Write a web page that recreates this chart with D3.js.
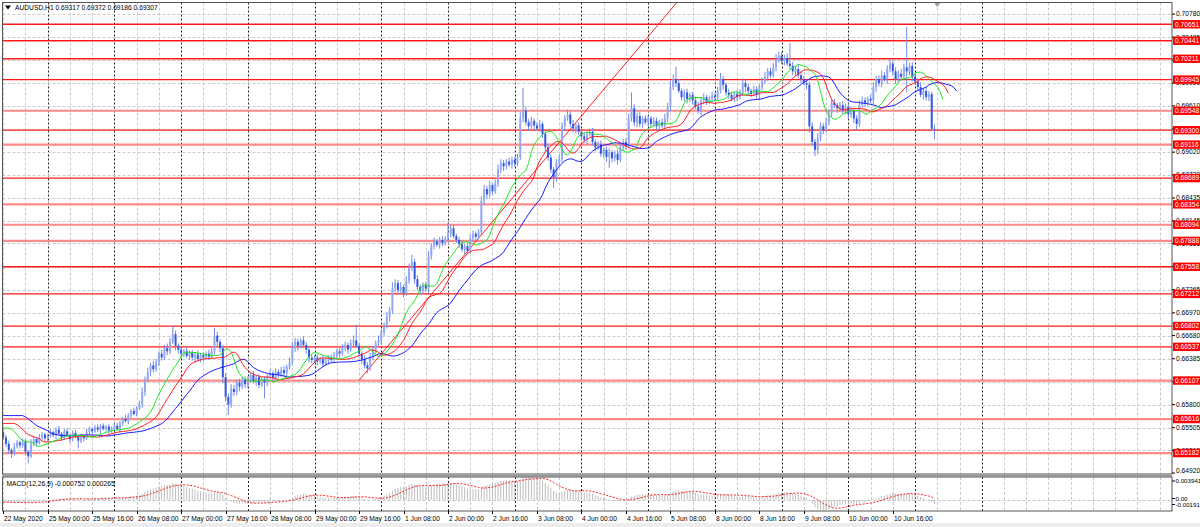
<!DOCTYPE html>
<html><head><meta charset="utf-8">
<script src="https://cdn.jsdelivr.net/npm/d3@7"></script>
<style>
body{margin:0;background:#fff;}
svg{display:block;font-family:"Liberation Sans",Arial,sans-serif;}
</style>
</head><body>
<svg id="c" width="1200" height="527"></svg>
<script>
// ---------------- DATA ----------------
const symbolTitle = "AUDUSD,H1";
const lastBarText = "0.69317 0.69372 0.69186 0.69307";
const firstOpen = 0.6545;
// hourly closes, 22 May 2020 08:00 .. 11 Jun 2020 07:00
const closes = [
0.6538,0.6530,0.6522,0.6518,0.6526,0.6532,0.6528,0.6533,0.6520,0.6514,0.6530,0.6536,0.6531,0.6538,0.6542,0.6537,
0.6540,0.6545,0.6541,0.6548,0.6543,0.6538,0.6546,0.6541,0.6536,0.6544,0.6539,0.6534,0.6540,0.6537,0.6545,0.6549,0.6546,0.6551,0.6548,0.6553,0.6549,0.6552,0.6547,0.6550,
0.6553,0.6549,0.6556,0.6562,0.6559,0.6566,0.6572,0.6568,0.6575,0.6580,0.6596,0.6612,0.6622,0.6630,0.6625,0.6634,0.6645,0.6640,0.6652,0.6648,0.6660,0.6670,0.6655,0.6650,
0.6645,0.6648,0.6642,0.6646,0.6640,0.6644,0.6638,0.6643,0.6640,0.6645,0.6641,0.6648,0.6668,0.6660,0.6652,0.6615,0.6590,0.6580,0.6600,0.6596,0.6608,0.6603,0.6612,0.6606,
0.6612,0.6618,0.6610,0.6615,0.6605,0.6612,0.6608,0.6616,0.6620,0.6614,0.6622,0.6618,0.6624,0.6620,0.6628,0.6634,0.6652,0.6660,0.6655,0.6662,0.6656,0.6650,0.6640,0.6637,
0.6640,0.6635,0.6638,0.6632,0.6636,0.6640,0.6637,0.6642,0.6648,0.6645,0.6652,0.6656,0.6650,0.6658,0.6662,0.6655,0.6645,0.6638,0.6630,0.6626,0.6640,0.6650,0.6658,0.6662,
0.6672,0.6680,0.6692,0.6700,0.6728,0.6735,0.6726,0.6730,0.6722,0.6738,0.6755,0.6762,0.6740,0.6730,0.6725,0.6732,0.6728,0.6770,0.6782,0.6788,0.6784,0.6790,0.6786,0.6792,
0.6798,0.6805,0.6795,0.6790,0.6785,0.6778,0.6782,0.6776,0.6792,0.6798,0.6794,0.6800,0.6840,0.6855,0.6848,0.6860,0.6852,0.6862,0.6880,0.6888,0.6884,0.6890,0.6886,0.6892,
0.6888,0.6895,0.6945,0.6955,0.6940,0.6935,0.6942,0.6936,0.6932,0.6938,0.6925,0.6908,0.6895,0.6880,0.6870,0.6888,0.6893,0.6935,0.6945,0.6950,0.6938,0.6932,0.6936,0.6928,
0.6922,0.6918,0.6925,0.6928,0.6915,0.6908,0.6912,0.6900,0.6905,0.6896,0.6902,0.6894,0.6900,0.6892,0.6908,0.6915,0.6910,0.6945,0.6958,0.6940,0.6948,0.6938,0.6945,0.6940,
0.6945,0.6938,0.6942,0.6935,0.6940,0.6936,0.6945,0.6960,0.6985,0.6995,0.6990,0.6980,0.6972,0.6978,0.6970,0.6975,0.6968,0.6960,0.6955,0.6968,0.6972,0.6966,0.6970,0.6974,
0.6972,0.6980,0.6995,0.6988,0.6978,0.6975,0.6970,0.6976,0.6972,0.6978,0.6990,0.6985,0.6980,0.6976,0.6982,0.6975,0.6985,0.6992,0.6998,0.7005,0.7000,0.7010,0.7020,0.7025,
0.7018,0.7022,0.7015,0.7012,0.7005,0.7008,0.7000,0.6995,0.6990,0.6988,0.6935,0.6915,0.6905,0.6920,0.6935,0.6930,0.6940,0.6952,0.6965,0.6962,0.6958,0.6962,0.6955,0.6960,
0.6950,0.6955,0.6945,0.6938,0.6962,0.6968,0.6965,0.6970,0.6968,0.6985,0.6995,0.6990,0.7000,0.6995,0.7008,0.7015,0.7005,0.6995,0.7002,0.6998,0.7010,0.7005,0.7012,0.6998,
0.6992,0.6985,0.6975,0.6980,0.6972,0.6976,0.69317,0.69307];
// upper / lower shadow lengths in pips
const wickUp = [
7,3,4,2,5,3,2,4,3,2,6,3,2,4,3,2,
3,4,2,3,5,2,3,4,2,3,4,2,3,2,4,3,2,3,4,2,3,2,3,2,
3,4,3,2,5,3,2,4,3,5,6,4,5,3,6,4,3,5,4,6,5,10,4,3,
4,3,5,3,4,3,5,3,4,3,5,4,10,5,3,4,5,4,6,5,4,5,3,4,
4,3,5,2,4,3,4,3,5,3,4,3,4,5,3,6,8,5,4,3,5,4,3,4,
3,4,3,5,4,3,4,5,3,4,5,4,3,5,6,20,4,3,5,4,6,5,4,6,
4,5,6,4,8,5,4,6,3,6,5,9,4,5,3,4,5,6,4,5,3,4,5,3,
14,4,5,3,4,5,3,4,5,4,3,4,6,5,4,5,3,5,6,5,4,3,5,4,
4,5,8,29,5,4,5,3,4,5,3,4,5,4,3,5,6,5,4,6,4,5,3,4,
4,5,3,4,5,3,4,5,3,4,5,3,4,5,6,4,5,6,20,5,4,5,3,4,
4,3,5,4,3,5,6,5,8,6,16,5,3,4,5,3,4,5,6,4,5,3,4,5,
4,5,8,4,3,5,4,3,5,4,6,5,4,3,5,4,3,5,6,4,5,6,7,5,
5,4,6,26,5,4,6,5,4,3,4,5,4,6,5,4,6,5,4,5,3,4,5,4,
4,5,3,4,6,5,4,3,5,6,4,5,6,4,5,6,4,5,4,6,5,52,4,5,
5,4,6,4,5,4,3,5.5];
const wickDown = [
3,4,5,6,3,2,4,3,5,9,2,3,4,2,3,4,
4,2,3,5,2,4,3,2,5,3,2,10,3,4,2,3,4,2,3,5,2,3,4,3,
3,2,4,3,2,4,3,2,3,2,4,5,3,6,4,3,5,4,3,5,4,3,6,5,
5,4,3,5,4,6,3,4,5,3,4,3,4,6,5,8,6,13,4,5,4,6,3,5,
5,4,3,6,4,3,20,4,3,5,3,4,3,5,4,3,4,5,6,3,4,5,6,4,
4,5,3,4,3,5,4,3,4,5,3,4,5,3,4,3,5,6,4,6,3,4,5,3,
5,4,3,6,4,5,6,4,5,3,4,5,6,4,5,3,4,6,5,4,3,5,4,3,
4,5,3,4,5,3,7,4,3,5,4,3,4,5,6,4,5,3,4,5,6,4,3,5,
5,4,3,5,4,6,4,5,3,4,5,6,4,5,14,6,5,4,5,3,4,5,6,4,
5,4,6,3,4,5,3,4,5,6,14,5,4,6,3,4,5,3,4,5,6,4,5,3,
5,4,3,5,4,3,4,5,6,4,5,3,4,5,6,4,5,3,4,6,5,4,3,5,
5,4,3,6,4,5,3,4,5,3,4,6,5,4,3,5,6,4,3,5,4,3,5,4,
4,5,3,4,5,6,4,5,3,6,8,5,8,6,4,5,3,4,5,4,6,5,4,5,
5,4,6,8,4,3,5,4,3,5,6,4,5,3,6,4,5,6,4,5,4,27,5,6,
4,5,3,6,4,5,3,12];
// horizontal support / resistance levels
const levelsStrong = [0.70651,0.70441,0.70211,0.69945,0.69300,0.68689,0.67558,0.67212,0.66802,0.66537];
const levelsSoft   = [0.69548,0.69116,0.68354,0.68094,0.67888,0.66107,0.65616,0.65182];
// price axis labels
const priceTicks = [0.70780,0.70485,0.70195,0.69900,0.69610,0.69315,0.69020,0.68730,0.68435,0.68145,0.67855,
                    0.67560,0.67265,0.66970,0.66680,0.66385,0.66090,0.65800,0.65505,0.65215,0.64920];
// time axis labels (one every 16 bars, starting at bar 0)
const timeLabels = ["22 May 2020","25 May 00:00","25 May 16:00","26 May 08:00","27 May 00:00","27 May 16:00",
 "28 May 08:00","29 May 00:00","29 May 16:00","1 Jun 08:00","2 Jun 00:00","2 Jun 16:00","3 Jun 08:00",
 "4 Jun 00:00","4 Jun 16:00","5 Jun 08:00","8 Jun 00:00","8 Jun 16:00","9 Jun 08:00","10 Jun 00:00","10 Jun 16:00"];
const daySeparatorBars = [16,40,64,88,112,136,160,184,208,232,256,280,304,328,352];
// trend line anchors (bar index, price)
const trendAnchors = [{bar:128,price:0.6611},{bar:200,price:0.69145}];
// Alligator starting values (from the left edge of the picture)
const jawSeed = 0.6566, teethSeed = 0.6556, lipsSeed = 0.6550;
// MACD
const macdLabel = "MACD(12,26,9) -0.000752 0.000265";
const macdTicks = ["0.003941","0.00","-0.00191"];
const macdRange = [-0.00191, 0.003941];
const macdSeed12 = 0.6536, macdSeed26 = 0.6540;

// ---------------- DRAW ----------------
const PIP = 0.0001;
const svg = d3.select("#c");
const L = 2.5, R = 1172, mainT = 2.5, mainB = 474, macdT = 477, macdB = 511;
const x = d3.scaleLinear().domain([0, 335]).range([3.2, 934.5]);
const y = d3.scaleLinear().domain([0.64920, 0.70935]).range([473.6, 2]);
const ym = d3.scaleLinear().domain(macdRange).range([macdB, macdT]);
const maxBar = Math.floor(x.invert(R));

const bars = closes.map((c, i) => {
  const o = i ? closes[i - 1] : firstOpen;
  return {i, o, c, h: Math.max(o, c) + wickUp[i] * PIP, l: Math.min(o, c) - wickDown[i] * PIP};
});

svg.append("rect").attr("width", 1200).attr("height", 527).attr("fill", "#fff");
const defs = svg.append("defs");
defs.append("clipPath").attr("id", "cm").append("rect").attr("x", L).attr("y", mainT).attr("width", R - L).attr("height", mainB - mainT);
defs.append("clipPath").attr("id", "cd").append("rect").attr("x", L).attr("y", macdT).attr("width", R - L).attr("height", macdB - macdT);

const gMain = svg.append("g").attr("clip-path", "url(#cm)");
const gMacd = svg.append("g").attr("clip-path", "url(#cd)");

// grid
const gridBars = d3.range(0, maxBar + 1, 8).filter(b => !daySeparatorBars.includes(b));
[[gMain, mainT, mainB], [gMacd, macdT, macdB]].forEach(([g, t, b]) => {
  g.selectAll(null).data(gridBars).join("line")
    .attr("x1", d => Math.round(x(d)) + 0.5).attr("x2", d => Math.round(x(d)) + 0.5)
    .attr("y1", t).attr("y2", b).attr("stroke", "#cacaca").attr("stroke-dasharray", "3,2");
  g.selectAll(null).data(daySeparatorBars.filter(d => d <= maxBar)).join("line")
    .attr("x1", d => Math.round(x(d)) + 0.5).attr("x2", d => Math.round(x(d)) + 0.5)
    .attr("y1", t).attr("y2", b).attr("stroke", "#222").attr("stroke-dasharray", "2,2");
});
gMain.selectAll(null).data(priceTicks).join("line")
  .attr("x1", L).attr("x2", R).attr("y1", d => Math.round(y(d)) + 0.5).attr("y2", d => Math.round(y(d)) + 0.5)
  .attr("stroke", "#cacaca").attr("stroke-dasharray", "3,2");
gMacd.append("line").attr("x1", L).attr("x2", R).attr("y1", Math.round(ym(0)) + 0.5).attr("y2", Math.round(ym(0)) + 0.5)
  .attr("stroke", "#c4c4c4").attr("stroke-dasharray", "3,2");

// levels
gMain.selectAll(null).data(levelsSoft).join("line")
  .attr("x1", L).attr("x2", R).attr("y1", d => y(d)).attr("y2", d => y(d))
  .attr("stroke", "#ff8a8a").attr("stroke-width", 2.2);
gMain.selectAll(null).data(levelsStrong).join("line")
  .attr("x1", L).attr("x2", R).attr("y1", d => y(d)).attr("y2", d => y(d))
  .attr("stroke", "#ff1a1a").attr("stroke-width", 1.3);

// trend line (ray)
const slope = (trendAnchors[1].price - trendAnchors[0].price) / (trendAnchors[1].bar - trendAnchors[0].bar);
const endBar = 300;
gMain.append("line")
  .attr("x1", x(trendAnchors[0].bar)).attr("y1", y(trendAnchors[0].price))
  .attr("x2", x(endBar)).attr("y2", y(trendAnchors[0].price + slope * (endBar - trendAnchors[0].bar)))
  .attr("stroke", "#ff2020").attr("stroke-width", 1);

// candles
gMain.selectAll(null).data(bars).join("line")
  .attr("x1", d => x(d.i)).attr("x2", d => x(d.i)).attr("y1", d => y(d.h)).attr("y2", d => y(d.l))
  .attr("stroke", "#6f8bea").attr("stroke-width", 1);
gMain.selectAll(null).data(bars).join("rect")
  .attr("x", d => x(d.i) - 1).attr("width", 2)
  .attr("y", d => y(Math.max(d.o, d.c)))
  .attr("height", d => Math.max(0.8, Math.abs(y(d.o) - y(d.c))))
  .attr("fill", d => d.c >= d.o ? "#93a9f1" : "#3358dd");

// Alligator
function smma(period, seed) {
  let v = seed;
  return bars.map(b => { v = (v * (period - 1) + (b.h + b.l) / 2) / period; return v; });
}
[[13, 8, jawSeed, "#1a1aff"], [8, 5, teethSeed, "#ff2020"], [5, 3, lipsSeed, "#1fe61f"]].forEach(([p, s, seed, col]) => {
  const vals = smma(p, seed);
  const pts = d3.range(s).map(k => [k, seed]).concat(vals.map((v, i) => [i + s, v]));
  gMain.append("path").attr("d", d3.line().x(d => x(d[0])).y(d => y(d[1]))(pts))
    .attr("fill", "none").attr("stroke", col).attr("stroke-width", 1);
});

// MACD
let e12 = macdSeed12, e26 = macdSeed26;
const macd = closes.map(c => { e12 += (2 / 13) * (c - e12); e26 += (2 / 27) * (c - e26); return e12 - e26; });
const seedM = macdSeed12 - macdSeed26;
const signal = macd.map((v, i) => { let s = 0; for (let k = i - 8; k <= i; k++) s += k >= 0 ? macd[k] : seedM; return s / 9; });
gMacd.selectAll(null).data(macd).join("line")
  .attr("x1", (d, i) => x(i)).attr("x2", (d, i) => x(i)).attr("y1", ym(0)).attr("y2", d => ym(d))
  .attr("stroke", "#bdbdbd").attr("stroke-width", 1);
gMacd.append("path").attr("d", d3.line().x((d, i) => x(i)).y(d => ym(d))(signal))
  .attr("fill", "none").attr("stroke", "#ff2020").attr("stroke-width", 1).attr("stroke-dasharray", "2,1.5");

// panel frames
svg.append("rect").attr("x", L).attr("y", mainT).attr("width", R - L).attr("height", mainB - mainT)
  .attr("fill", "none").attr("stroke", "#555").attr("stroke-width", 1);
svg.append("rect").attr("x", L).attr("y", mainB + 0.5).attr("width", R - L).attr("height", macdT - mainB - 1)
  .attr("fill", "#9a9a9a");
svg.append("rect").attr("x", L).attr("y", macdT).attr("width", R - L).attr("height", macdB - macdT)
  .attr("fill", "none").attr("stroke", "#555").attr("stroke-width", 1);
svg.append("rect").attr("x", 0).attr("y", 523).attr("width", 1200).attr("height", 4).attr("fill", "#ededed");

// chart shift marker
svg.append("path").attr("d", `M${x(336) - 3},3 L${x(336) + 3},3 L${x(336)},7 Z`).attr("fill", "#a0a0a0");

// price axis
const fs = 6.7;
const axisG = svg.append("g").attr("font-size", fs);
const allLevels = levelsStrong.concat(levelsSoft);
priceTicks.forEach(t => {
  const yy = y(t);
  axisG.append("line").attr("x1", R).attr("x2", R + 3).attr("y1", Math.min(yy, mainB - 1)).attr("y2", Math.min(yy, mainB - 1)).attr("stroke", "#000");
  // labels that sit entirely under a level box are not visible in the picture
  if (allLevels.some(l => Math.abs(y(l) - yy) < 2)) return;
  axisG.append("text").attr("x", R + 4).attr("y", Math.min(yy, mainB - 3)).attr("dy", "0.35em").attr("fill", "#000").text(t.toFixed(5));
});
allLevels.forEach(t => {
  const yy = y(t);
  axisG.append("rect").attr("x", R + 1).attr("y", yy - 4.2).attr("width", 1200 - R - 1).attr("height", 8.4).attr("fill", "#ff0000");
  axisG.append("text").attr("x", R + 3).attr("y", yy).attr("dy", "0.35em").attr("fill", "#fff").text(t.toFixed(5));
});
// MACD axis
const macdY = [481, 498.5, 504.5];
macdTicks.forEach((t, i) => {
  axisG.append("line").attr("x1", R).attr("x2", R + 3).attr("y1", macdY[i]).attr("y2", macdY[i]).attr("stroke", "#000");
  axisG.append("text").attr("x", R + 3.5).attr("y", macdY[i]).attr("dy", "0.35em").attr("font-size", 6.2)
    .attr("fill", "#000").text(t);
});

// time axis
timeLabels.forEach((t, k) => {
  const xx = Math.round(x(k * 16)) + 0.5;
  axisG.append("line").attr("x1", xx).attr("x2", xx).attr("y1", macdB).attr("y2", macdB + 3).attr("stroke", "#000");
  axisG.append("text").attr("x", xx + 0.5).attr("y", 520.5).attr("fill", "#000").text(t);
});

// titles
svg.append("path").attr("d", "M5,5.5 L11,5.5 L8,9.5 Z").attr("fill", "#000");
svg.append("text").attr("x", 15).attr("y", 7.5).attr("dy", "0.35em").attr("font-size", fs).attr("fill", "#000")
  .text(symbolTitle + "  " + lastBarText);
svg.append("text").attr("x", 6.5).attr("y", 483.3).attr("dy", "0.35em").attr("font-size", fs).attr("fill", "#000")
  .text(macdLabel);
</script>
</body></html>
